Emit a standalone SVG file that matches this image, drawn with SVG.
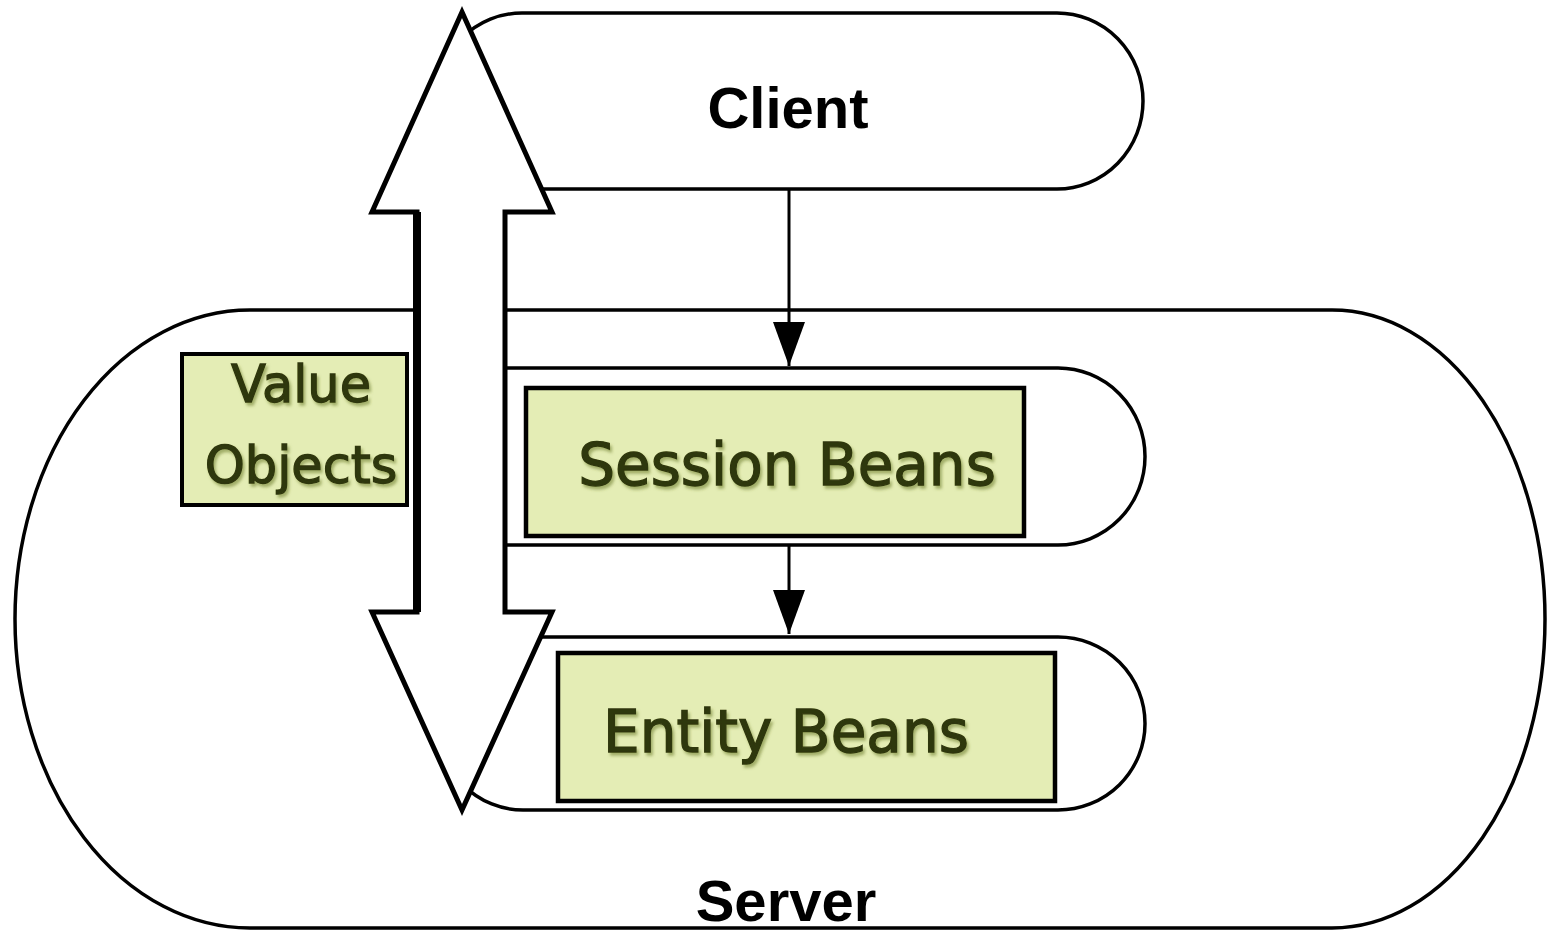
<svg xmlns="http://www.w3.org/2000/svg" width="1547" height="932" viewBox="0 0 1547 932">
<style>
.outline{fill:#ffffff;stroke:#000000;stroke-width:3.5}
.box{fill:#e4edb5;stroke:#000000;stroke-width:4.5}
.lbl{font-family:"Liberation Sans",Arial,sans-serif;font-weight:bold;font-size:58px;fill:#000000;text-anchor:middle}
.btxt{font-family:"DejaVu Sans",Verdana,sans-serif;font-size:58px;fill:#2f370a;stroke:#2f370a;stroke-width:1.3;text-anchor:middle;filter:url(#sh)}
.conn{stroke:#000000;stroke-width:3;fill:none}
</style>
<defs>
<filter id="sh" x="-5%" y="-10%" width="115%" height="130%">
<feDropShadow dx="2" dy="3" stdDeviation="1.5" flood-color="#6b7a2a" flood-opacity="0.55"/>
</filter>
<marker id="ah" viewBox="0 0 44 32" refX="44" refY="16" markerWidth="44" markerHeight="32" markerUnits="userSpaceOnUse" orient="auto">
<path d="M0,0 L44,16 L0,32 Z" fill="#000000"/>
</marker>
</defs>
<rect width="1547" height="932" fill="#ffffff"/>
<g id="server">
<path class="outline" d="M250,310 H1332 A213,309 0 0 1 1332,928 H250 A235,309 0 0 1 250,310 Z"/>
<text class="lbl" x="786" y="921">Server</text>
</g>
<g id="session-tier">
<path class="outline" d="M500,368 H1058 A87,88.5 0 0 1 1058,545 H500 A80,88.5 0 0 1 500,368 Z"/>
</g>
<g id="entity-tier">
<path class="outline" d="M523,637 H1058 A87,86.5 0 0 1 1058,810 H523 A85,86.5 0 0 1 523,637 Z"/>
</g>
<g id="client">
<path class="outline" d="M522,13 H1057 A86,88 0 0 1 1057,189 H522 A86,88 0 0 1 522,13 Z"/>
<text class="lbl" x="788" y="128">Client</text>
</g>
<g id="session-beans">
<rect class="box" x="526" y="388" width="498" height="148"/>
<text class="btxt" x="787" y="485">Session Beans</text>
</g>
<g id="entity-beans">
<rect class="box" x="558" y="653" width="497" height="148"/>
<text class="btxt" x="786" y="752">Entity Beans</text>
</g>
<g id="value-objects">
<rect class="box" x="182" y="354" width="225" height="151" style="stroke-width:4"/>
<text class="btxt" x="301" y="402" style="font-size:51px">Value</text>
<text class="btxt" x="301" y="483" style="font-size:51px">Objects</text>
</g>
<g id="connectors">
<line class="conn" x1="789" y1="189" x2="789" y2="366" marker-end="url(#ah)"/>
<line class="conn" x1="789" y1="545" x2="789" y2="634" marker-end="url(#ah)"/>
</g>
<g id="transfer-arrow">
<polygon points="462,12 552,212 505,212 505,612 552,612 462,810 372,612 417,612 417,212 372,212" fill="#ffffff" stroke="#000000" stroke-width="5" stroke-linejoin="miter"/>
<line x1="417" y1="212" x2="417" y2="612" stroke="#000000" stroke-width="8"/>
</g>
</svg>
